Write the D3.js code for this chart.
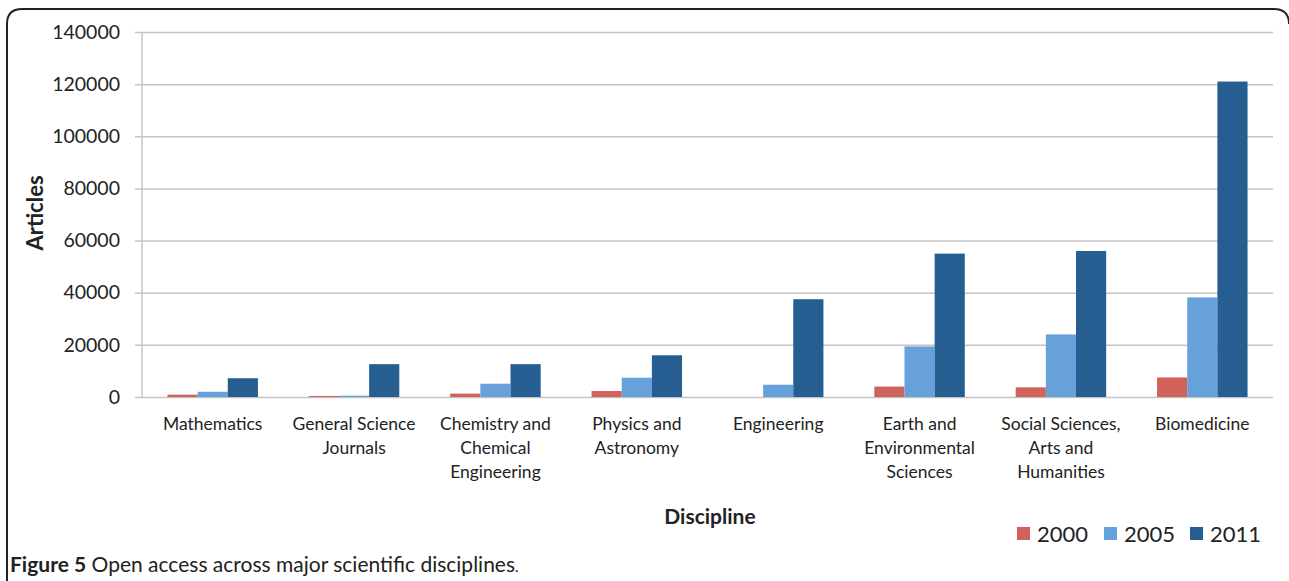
<!DOCTYPE html>
<html>
<head>
<meta charset="utf-8">
<script src="https://cdn.jsdelivr.net/npm/d3@7"></script>
<style>
  html, body { margin: 0; padding: 0; background: #fff; overflow: hidden; }
  svg { display: block; }
  text { font-family: Lato, "Open Sans", sans-serif; fill: #222; }
</style>
</head>
<body>
<svg></svg>
<script>
const w = 1289
const h = 581

// data
const disciplines = [
  ['Mathematics'],
  ['General Science', 'Journals'],
  ['Chemistry and', 'Chemical', 'Engineering'],
  ['Physics and', 'Astronomy'],
  ['Engineering'],
  ['Earth and', 'Environmental', 'Sciences'],
  ['Social Sciences,', 'Arts and', 'Humanities'],
  ['Biomedicine']
]
const years = ['2000', '2005', '2011']
const articles2000 = [900, 400, 1300, 2300, 0, 4000, 3700, 7500]
const articles2005 = [2000, 500, 5100, 7400, 4700, 19400, 24000, 38200]
const articles2011 = [7200, 12600, 12600, 16000, 37500, 55000, 56000, 121000]
const yTicks = [0, 20000, 40000, 60000, 80000, 100000, 120000, 140000]
const colors = ['#d0615b', '#66a1dc', '#265e92']

const svg = d3.select('svg')
  .attr('width', w)
  .attr('height', h)
  .attr('viewBox', `0 0 ${w} ${h}`);

// frame round the figure
svg.append('path')
  .attr('d', 'M7,581 V24 Q7,9 22,9 H1274 Q1289,9 1289,24')
  .attr('fill', 'none')
  .attr('stroke', '#222')
  .attr('stroke-width', 2);

const margin = {top: 32, right: 16, bottom: 184, left: 142};
const innerWidth = w - margin.left - margin.right;
const innerHeight = h - margin.top - margin.bottom;

const keys = disciplines.map(d => d.join(' '));
const data = keys.map((k, i) => ({
  key: k,
  values: [articles2000[i], articles2005[i], articles2011[i]]
}));

const xScale = d3.scaleBand()
  .domain(keys)
  .range([0, innerWidth])
  .paddingInner(0.36)
  .paddingOuter(0.18);

const xInner = d3.scaleBand()
  .domain(years)
  .range([0, xScale.bandwidth()]);

const yScale = d3.scaleLinear()
  .domain([0, 140000])
  .range([innerHeight, 0]);

const g = svg.append('g')
  .attr('transform', `translate(${margin.left}, ${margin.top})`);

// gridlines + tick labels
const yAxisG = g.append('g')
  .call(d3.axisLeft(yScale).tickValues(yTicks).tickSize(-innerWidth - 7).tickPadding(16).tickFormat(d3.format('d')));
yAxisG.select('.domain').remove();
yAxisG.selectAll('.tick line')
  .attr('stroke', '#c4c4c4')
  .attr('stroke-width', 1.5)
  .attr('transform', 'translate(-7,0)')
  .attr('x2', innerWidth + 7);
yAxisG.selectAll('.tick text')
  .attr('font-size', '19.5px')
  .attr('x', -22)
  .style('fill', '#222');

// vertical axis line
g.append('line')
  .attr('x1', 0).attr('x2', 0)
  .attr('y1', 0).attr('y2', innerHeight)
  .attr('stroke', '#c4c4c4')
  .attr('stroke-width', 1.5);

// bars
const groups = g.selectAll('.grp').data(data)
  .enter().append('g')
  .attr('class', 'grp')
  .attr('transform', d => `translate(${xScale(d.key)},0)`);

groups.selectAll('rect')
  .data(d => d.values.map((v, i) => ({year: years[i], v, i})))
  .enter().append('rect')
  .attr('x', d => xInner(d.year))
  .attr('width', xInner.bandwidth())
  .attr('y', d => yScale(d.v))
  .attr('height', d => innerHeight - yScale(d.v))
  .attr('fill', d => colors[d.i]);

// category labels
const xAxisG = g.append('g')
  .attr('transform', `translate(0, ${innerHeight})`);
disciplines.forEach((lines, i) => {
  const cx = xScale(keys[i]) + xScale.bandwidth() / 2;
  const t = xAxisG.append('text')
    .attr('text-anchor', 'middle')
    .attr('font-size', '17.5px')
    .attr('x', cx)
    .attr('y', 33);
  lines.forEach((l, j) => {
    t.append('tspan')
      .attr('x', cx)
      .attr('y', 33 + j * 24)
      .text(l);
  });
});

// axis titles
svg.append('text')
  .attr('transform', 'rotate(-90)')
  .attr('x', -213).attr('y', 43)
  .attr('text-anchor', 'middle')
  .attr('font-size', '22px')
  .attr('font-weight', 'bold')
  .text('Articles');

svg.append('text')
  .attr('x', 710).attr('y', 524)
  .attr('text-anchor', 'middle')
  .attr('font-size', '21px')
  .attr('font-weight', 'bold')
  .text('Discipline');

// legend
const legendX = [1017, 1104, 1190];
years.forEach((y, i) => {
  svg.append('rect')
    .attr('x', legendX[i]).attr('y', 527)
    .attr('width', 13).attr('height', 13)
    .attr('fill', colors[i]);
  svg.append('text')
    .attr('x', legendX[i] + 20).attr('y', 542)
    .attr('font-size', '22px')
    .text(y);
});

// caption
const cap = svg.append('text')
  .attr('x', 10).attr('y', 572)
  .attr('font-size', '21px');
cap.append('tspan').attr('font-weight', 'bold').text('Figure 5');
cap.append('tspan').text(' Open access across major scientific disciplines');
cap.append('tspan').attr('font-size', '15px').text('.');
</script>
</body>
</html>
